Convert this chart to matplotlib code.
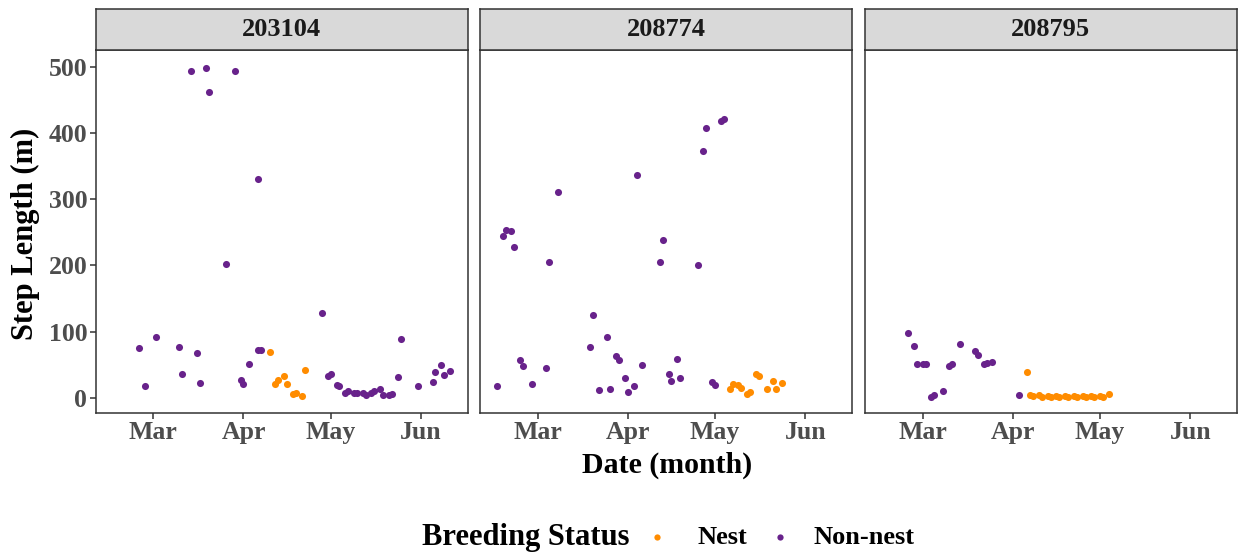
import numpy as np
import pandas as pd
import matplotlib
matplotlib.use("Agg")
import matplotlib.pyplot as plt
import matplotlib.dates as mdates
from matplotlib.lines import Line2D

plt.rcParams['font.family'] = ['Liberation Serif', 'DejaVu Serif']
plt.rcParams['font.weight'] = 'bold'

# step lengths per bird (m), with date and breeding status
ids = ["203104", "208774", "208795"]

dates_203104 = ["2023-02-24", "2023-02-26", "2023-03-02", "2023-03-10", "2023-03-11",
                "2023-03-14", "2023-03-16", "2023-03-17", "2023-03-19", "2023-03-20",
                "2023-03-26", "2023-03-29", "2023-03-31", "2023-04-01", "2023-04-03",
                "2023-04-06", "2023-04-06", "2023-04-07", "2023-04-10", "2023-04-12",
                "2023-04-13", "2023-04-15", "2023-04-16", "2023-04-18", "2023-04-19",
                "2023-04-21", "2023-04-22", "2023-04-28", "2023-04-30", "2023-05-01",
                "2023-05-03", "2023-05-04", "2023-05-06", "2023-05-07", "2023-05-09",
                "2023-05-10", "2023-05-12", "2023-05-13", "2023-05-15", "2023-05-16",
                "2023-05-18", "2023-05-19", "2023-05-21", "2023-05-22", "2023-05-24",
                "2023-05-25", "2023-05-31", "2023-06-05", "2023-06-06", "2023-06-08",
                "2023-06-09", "2023-06-11"]
steps_203104 = [76, 18, 92, 77, 37, 494, 68, 23, 498, 462,
                202, 494, 27, 22, 51, 330, 73, 73, 70, 21,
                27, 34, 21, 6, 8, 3.5, 43, 128, 34, 37,
                20, 19, 7, 10, 7, 7, 8, 5, 7, 10,
                13, 4, 4, 6, 32, 89, 18, 24, 39, 50,
                35, 41]
status_203104 = ["Non-nest"] * 18 + ["Nest"] * 9 + ["Non-nest"] * 25

dates_208774 = ["2023-02-15", "2023-02-17", "2023-02-18", "2023-02-20", "2023-02-21",
                "2023-02-23", "2023-02-24", "2023-02-27", "2023-03-04", "2023-03-05",
                "2023-03-08", "2023-03-19", "2023-03-20", "2023-03-22", "2023-03-25",
                "2023-03-26", "2023-03-28", "2023-03-29", "2023-03-31", "2023-04-01",
                "2023-04-03", "2023-04-04", "2023-04-06", "2023-04-12", "2023-04-13",
                "2023-04-15", "2023-04-16", "2023-04-18", "2023-04-19", "2023-04-25",
                "2023-04-27", "2023-04-28", "2023-04-30", "2023-05-01", "2023-05-03",
                "2023-05-04", "2023-05-06", "2023-05-07", "2023-05-09", "2023-05-10",
                "2023-05-12", "2023-05-13", "2023-05-15", "2023-05-16", "2023-05-19",
                "2023-05-21", "2023-05-22", "2023-05-24"]
steps_208774 = [18, 244, 253, 252, 228, 57, 48, 22, 46, 206,
                311, 77, 126, 12.5, 92, 13.5, 63, 58, 31, 9.5,
                17.6, 337, 50, 205, 238, 37, 26, 59, 30, 200,
                372, 407, 24, 20, 418, 421, 13, 21, 20, 15,
                6, 9, 37, 34, 13.5, 26, 13, 23]
status_208774 = ["Non-nest"] * 36 + ["Nest"] * 12

dates_208795 = ["2023-02-24", "2023-02-26", "2023-02-27", "2023-03-01", "2023-03-02",
                "2023-03-04", "2023-03-05", "2023-03-08", "2023-03-10", "2023-03-11",
                "2023-03-14", "2023-03-19", "2023-03-20", "2023-03-22", "2023-03-23",
                "2023-03-25", "2023-04-03", "2023-04-06", "2023-04-07", "2023-04-08",
                "2023-04-10", "2023-04-11", "2023-04-13", "2023-04-14", "2023-04-16",
                "2023-04-17", "2023-04-19", "2023-04-20", "2023-04-22", "2023-04-23",
                "2023-04-25", "2023-04-26", "2023-04-28", "2023-04-29", "2023-05-01",
                "2023-05-02", "2023-05-04"]
steps_208795 = [98, 79, 52, 52, 52, 2, 4.5, 11, 49, 52,
                81, 71, 65, 52, 53, 55, 4.5, 40, 5, 3,
                4, 2, 3, 2, 3, 2, 3, 2, 3, 2,
                3, 2, 3, 2, 3, 2, 6]
status_208795 = ["Non-nest"] * 17 + ["Nest"] * 20

all_dates = [dates_203104, dates_208774, dates_208795]
all_steps = [steps_203104, steps_208774, steps_208795]
all_status = [status_203104, status_208774, status_208795]

colors = {"Nest": "#FF8C00", "Non-nest": "#68228B"}

W, H = 1238, 554
fig = plt.figure(figsize=(W / 100, H / 100), dpi=100)

panel_left = [95.7, 480.0, 865.0]
panel_w = 371.8
panel_top, panel_bot = 50.0, 412.7
strip_top = 8.7

x0 = mdates.date2num(pd.Timestamp("2023-03-01")) - 19.8
x1 = mdates.date2num(pd.Timestamp("2023-03-01")) + 108.0
tick_grey = "#4D4D4D"
border = "#333333"

for i, bird in enumerate(ids):
    left = panel_left[i]
    ax = fig.add_axes([left / W, 1 - panel_bot / H, panel_w / W, (panel_bot - panel_top) / H])
    d = pd.to_datetime(all_dates[i])
    s = np.array(all_steps[i])
    st = np.array(all_status[i])
    for lab in ["Nest", "Non-nest"]:
        m = st == lab
        ax.scatter(d[m], s[m], s=26, color=colors[lab], linewidths=0, zorder=3)
    ax.set_xlim(x0, x1)
    ax.set_ylim(-22, 525)
    ax.xaxis.set_major_locator(mdates.MonthLocator(bymonth=[3, 4, 5, 6]))
    ax.xaxis.set_major_formatter(mdates.DateFormatter("%b"))
    ax.set_yticks([0, 100, 200, 300, 400, 500])
    ax.tick_params(length=4, width=1.1, color=border, labelsize=18.5,
                   labelcolor=tick_grey, pad=2)
    if i > 0:
        ax.tick_params(axis="y", left=False, labelleft=False)
    for sp in ax.spines.values():
        sp.set_color(border)
        sp.set_linewidth(1.1)
    for t in ax.get_xticklabels() + ax.get_yticklabels():
        t.set_fontweight("bold")

    # facet strip
    sax = fig.add_axes([left / W, 1 - panel_top / H, panel_w / W, (panel_top - strip_top) / H])
    sax.set_facecolor("#D9D9D9")
    sax.set_xticks([])
    sax.set_yticks([])
    for sp in sax.spines.values():
        sp.set_color(border)
        sp.set_linewidth(1.1)
    sax.text(0.5, 0.5, bird, ha="center", va="center", fontsize=19,
             fontweight="bold", color="#1A1A1A", transform=sax.transAxes)

fig.text(667 / W, 1 - 465 / H, "Date (month)", ha="center", va="center",
         fontsize=21.5, fontweight="bold", color="black")
fig.text(25 / W, 1 - 234 / H, "Step Length (m)", ha="center", va="center",
         rotation=90, fontsize=22, fontweight="bold", color="black")

# legend along the bottom
leg_y = 1 - 537 / H
fig.text(526 / W, leg_y, "Breeding Status", ha="center", va="center",
         fontsize=22, fontweight="bold", color="black")
for key, dot_x, txt_x in [("Nest", 657, 697), ("Non-nest", 780, 813)]:
    fig.add_artist(Line2D([dot_x / W], [leg_y], marker="o", linestyle="",
                          markersize=4.5, markerfacecolor=colors[key],
                          markeredgewidth=0, transform=fig.transFigure))
    fig.text(txt_x / W, leg_y, key, ha="left", va="center",
             fontsize=19, fontweight="bold", color="black")

fig.savefig("out.png", dpi=100)
